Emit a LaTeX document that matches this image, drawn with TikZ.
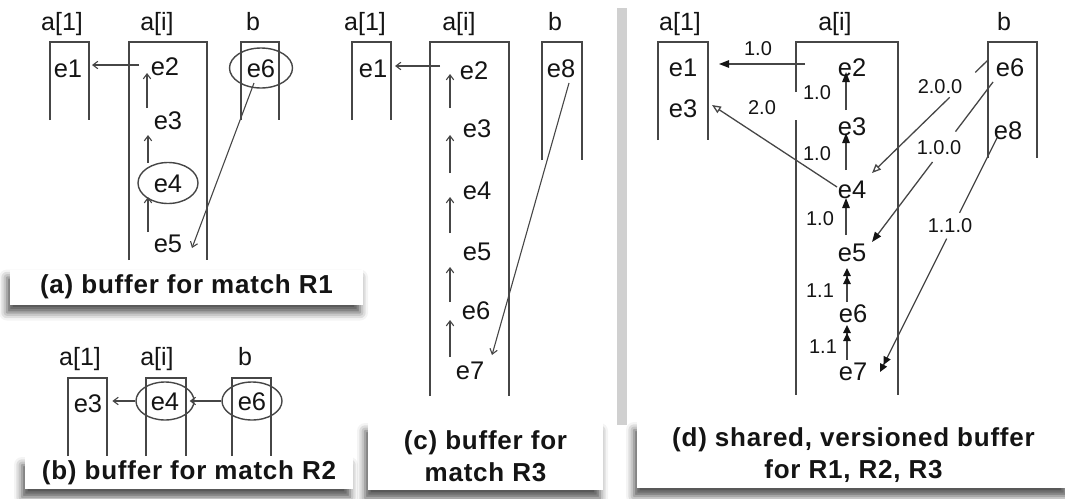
\documentclass[tikz,border=0pt]{standalone}
\usepackage{fontspec}
\setmainfont{Liberation Sans}
\newfontfamily\capfont[LetterSpace=3]{Liberation Sans Bold}
\usetikzlibrary{arrows.meta,shapes.geometric,calc,shadows.blur}
\definecolor{ln}{RGB}{70,70,70}
\definecolor{tx}{RGB}{20,20,20}
\definecolor{sepc}{RGB}{208,208,208}
\tikzset{
  ev/.style={font=\fontsize{25.5}{25.5}\selectfont, text=tx, inner sep=0pt, text height=18pt, text depth=0pt},
  hd/.style={font=\fontsize{25}{25}\selectfont, text=tx, inner sep=0pt, text height=18pt, text depth=5pt},
  ring/.style={ev, ellipse, draw=ln, line width=1.4pt},
  ver/.style={font=\fontsize{20}{20}\selectfont, text=tx, inner sep=0pt, text height=14.3pt, text depth=0pt},
  brk/.style={draw=ln, line width=1.6pt},
  thinarr/.style={draw=ln, line width=1.1pt, -{Straight Barb[length=5pt,width=7.5pt]}},
  fillarr/.style={draw=ln, line width=1.3pt, -{Triangle[length=10pt,width=7.5pt,color=tx]}},
  openarr/.style={draw=ln, line width=1.3pt, -{Triangle[open,length=9pt,width=7.5pt]}},
  dblarr/.style={draw=ln, line width=1.3pt, -{Triangle[length=8pt,width=7.5pt,color=tx]Triangle[length=8pt,width=7.5pt,color=tx]}},
  plain/.style={draw=ln, line width=1.3pt},
  capbox/.style={fill=white, inner sep=0pt, align=center, text=tx,
    font=\capfont\fontsize{26}{32}\selectfont,
    blur shadow={shadow xshift=-3pt, shadow yshift=-8pt, shadow blur radius=8pt, shadow opacity=70}},
}
\begin{document}
\begin{tikzpicture}[x=1pt,y=-1pt]
\useasboundingbox (0,0) rectangle (1065,498);

% separator
\fill[sepc] (617,8) rectangle (627,425);

% ================= panel (a)
\node[hd] (aha1) at (62,24) {a[1]};
\node[hd] (ahai) at (157,24) {a[i]};
\node[hd] (ahb) at (253,24) {b};
\draw[brk] (50,120) -- (50,42) -- (89,42) -- (89,120);
\draw[brk] (129,260) -- (129,42) -- (207,42) -- (207,260);
\draw[brk] (241,120) -- (241,42) -- (279,42) -- (279,120);
\node[ev] (ae1) at (68,68) {e1};
\node[ev] (ae2) at (165,66) {e2};
\node[ev] (ae3) at (168,120) {e3};
\node[ring, minimum width=60pt, minimum height=41pt] (ae4) at (168,183) {e4};
\node[ev] (ae5) at (168,243) {e5};
\node[ring, minimum width=63pt, minimum height=40pt] (ae6) at (261,68) {e6};
\draw[thinarr] ([shift={(-26,-1)}]ae2.center) -- ([shift={(24,-3)}]ae1.center);
\draw[thinarr] ([shift={(-21,-12)}]ae3.center) -- ([shift={(-18,7)}]ae2.center);
\draw[thinarr] ([shift={(-20,-20)}]ae4.center) -- ([shift={(-20,15)}]ae3.center);
\draw[thinarr] ([shift={(-20,-11)}]ae5.center) -- ([shift={(-20,14)}]ae4.center);
\draw[thinarr] ([shift={(-7,15)}]ae6.center) -- ([shift={(24,5)}]ae5.center);
\node[capbox, minimum width=353pt, minimum height=35pt] (capa) at (186.5,287) {(a) buffer for match R1};

% ================= panel (b)
\node[hd] (bha1) at (80,359) {a[1]};
\node[hd] (bhai) at (157,359) {a[i]};
\node[hd] (bhb) at (245,359) {b};
\draw[brk] (68,456) -- (68,378) -- (107,378) -- (107,456);
\draw[brk] (146,456) -- (146,378) -- (186,378) -- (186,456);
\draw[brk] (232,456) -- (232,378) -- (271,378) -- (271,456);
\node[ev] (be3) at (88,403) {e3};
\node[ring, minimum width=58pt, minimum height=38pt] (be4) at (165,401) {e4};
\node[ring, minimum width=60pt, minimum height=38pt] (be6) at (252,401) {e6};
\draw[thinarr] (be6.west) -- ([shift={(-5,0)}]be4.east);
\draw[thinarr] (be4.west) -- ([shift={(10,-2)}]be3.east);
\node[capbox, minimum width=328pt, minimum height=32pt] (capb) at (189,473) {(b) buffer for match R2};

% ================= panel (c)
\node[hd] (cha1) at (365,24) {a[1]};
\node[hd] (chai) at (459,24) {a[i]};
\node[hd] (chb) at (555,24) {b};
\draw[brk] (352,120) -- (352,42) -- (391,42) -- (391,120);
\draw[brk] (430,396) -- (430,42) -- (509,42) -- (509,396);
\draw[brk] (542,160) -- (542,42) -- (582,42) -- (582,160);
\node[ev] (ce1) at (373,68) {e1};
\node[ev] (ce2) at (474,70) {e2};
\node[ev] (ce3) at (477,128) {e3};
\node[ev] (ce4) at (477,190) {e4};
\node[ev] (ce5) at (477,251) {e5};
\node[ev] (ce6) at (476,310) {e6};
\node[ev] (ce7) at (470,370) {e7};
\node[ev] (ce8) at (561,68) {e8};
\draw[thinarr] ([shift={(-34,-4)}]ce2.center) -- ([shift={(22,-2)}]ce1.center);
\draw[thinarr] ([shift={(-27,-20)}]ce3.center) -- ([shift={(-24,4)}]ce2.center);
\draw[thinarr] ([shift={(-27,-17)}]ce4.center) -- ([shift={(-27,7)}]ce3.center);
\draw[thinarr] ([shift={(-27,-18)}]ce5.center) -- ([shift={(-27,7)}]ce4.center);
\draw[thinarr] ([shift={(-26,-8)}]ce6.center) -- ([shift={(-27,16)}]ce5.center);
\draw[thinarr] ([shift={(-20,-13)}]ce7.center) -- ([shift={(-26,10)}]ce6.center);
\draw[thinarr] ([shift={(8,15)}]ce8.center) -- ([shift={(22,-15)}]ce7.center);
\node[capbox, minimum width=235pt, minimum height=67pt] (capc) at (485.5,456.5) {(c) buffer for\\match R3};

% ================= panel (d)
\node[hd] (dha1) at (680,24) {a[1]};
\node[hd] (dhai) at (835,24) {a[i]};
\node[hd] (dhb) at (1004,24) {b};
\draw[brk] (658,140) -- (658,42) -- (708,42) -- (708,140);
\draw[brk] (796,92) -- (796,42) -- (898,42) -- (898,395);
\draw[brk] (796,120) -- (796,395);
\draw[brk] (988,158) -- (988,42) -- (1037,42) -- (1037,158);
\node[ev] (de1) at (683,67) {e1};
\node[ev] (de3a) at (683,108) {e3};
\node[ev] (de2) at (852,67) {e2};
\node[ev] (de3) at (852,126) {e3};
\node[ev] (de4) at (852,189) {e4};
\node[ev] (de5) at (852,252) {e5};
\node[ev] (de6) at (853,313) {e6};
\node[ev] (de7) at (853,371) {e7};
\node[ev] (de6b) at (1010,67) {e6};
\node[ev] (de8) at (1008,130) {e8};
\draw[fillarr] ([shift={(-47,-3)}]de2.center) -- ([shift={(36,-3)}]de1.center);
\draw[openarr] ([shift={(-15,-2)}]de4.center) -- ([shift={(29,-3)}]de3a.center);
\draw[fillarr] ([shift={(-6,-16)}]de3.center) -- ([shift={(-6,5)}]de2.center);
\draw[fillarr] ([shift={(-6,-19)}]de4.center) -- ([shift={(-6,7)}]de3.center);
\draw[fillarr] ([shift={(-6,-17)}]de5.center) -- ([shift={(-6,9)}]de4.center);
\draw[dblarr] ([shift={(-6,-11)}]de6.center) -- ([shift={(-5,16)}]de5.center);
\draw[dblarr] ([shift={(-6,-11)}]de7.center) -- ([shift={(-6,12)}]de6.center);
% 2.0.0
\coordinate (s1) at ([shift={(-22,-7)}]de6b.center);
\coordinate (t1) at ([shift={(20,-16)}]de4.center);
\draw[plain] (s1) -- ($(s1)!0.11!(t1)$);
\draw[openarr] ($(s1)!0.33!(t1)$) -- (t1);
% 1.0.0
\coordinate (s2) at ([shift={(-17,15)}]de6b.center);
\coordinate (t2) at ([shift={(20,-10)}]de5.center);
\draw[plain] (s2) -- ($(s2)!0.31!(t2)$);
\draw[fillarr] ($(s2)!0.50!(t2)$) -- (t2);
% 1.1.0
\coordinate (s3) at ([shift={(-11,8)}]de8.center);
\coordinate (t3) at ([shift={(27,1)}]de7.center);
\draw[plain] (s3) -- ($(s3)!0.32!(t3)$);
\draw[dblarr] ($(s3)!0.43!(t3)$) -- (t3);
% version labels
\node[ver] (v1) at (758,48) {1.0};
\node[ver] (v2) at (762,107) {2.0};
\node[ver] (v3) at (817,92) {1.0};
\node[ver] (v4) at (817,153) {1.0};
\node[ver] (v5) at (820,218) {1.0};
\node[ver] (v6) at (820,290) {1.1};
\node[ver] (v7) at (823,346) {1.1};
\node[ver] (v8) at (940,86) {2.0.0};
\node[ver] (v9) at (939,147) {1.0.0};
\node[ver] (v10) at (950,225) {1.1.0};
\node[capbox, minimum width=433pt, minimum height=66pt] (capd) at (853.5,455) {(d) shared, versioned buffer\\for R1, R2, R3};
\end{tikzpicture}
\end{document}
